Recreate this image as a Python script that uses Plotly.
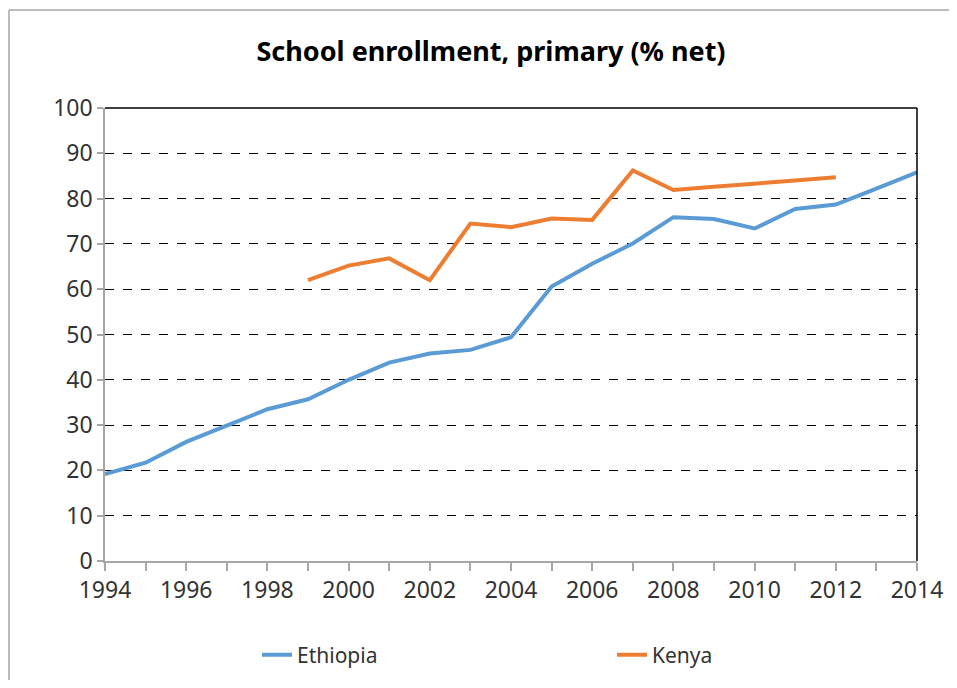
import plotly.graph_objects as go

years = list(range(1994, 2015))
ethiopia = [19.2, 21.7, 26.3, 29.9, 33.5, 35.7, 40.0, 43.8, 45.8, 46.6, 49.4,
            60.6, 65.6, 70.1, 75.9, 75.5, 73.4, 77.7, 78.7, 82.2, 85.8]
kenya_years = list(range(1999, 2013))
kenya = [62.0, 65.2, 66.8, 62.0, 74.5, 73.7, 75.6, 75.3, 86.2, 81.9, 82.6, 83.4, 84.0, 84.7]

FONT = "Noto Sans"
W, H = 941, 672
PL, PR, PT, PB = 97, 909, 100, 553  # plot area in figure pixels
PW, PH = PR - PL, PB - PT

fig = go.Figure()
fig.add_trace(go.Scatter(x=years, y=ethiopia, mode="lines", name="Ethiopia",
                         line=dict(color="#5B9BD5", width=4), legend="legend"))
fig.add_trace(go.Scatter(x=kenya_years, y=kenya, mode="lines", name="Kenya",
                         line=dict(color="#ED7D31", width=4), legend="legend2"))

leg_common = dict(orientation="h", xanchor="left", yanchor="middle",
                  xref="container", yref="container",
                  y=1 - 647 / H,
                  font=dict(family=FONT, size=21, color="#333333"),
                  bgcolor="rgba(0,0,0,0)")

fig.update_layout(
    width=W, height=H,
    margin=dict(l=PL, r=W - PR, t=PT, b=H - PB, autoexpand=False),
    paper_bgcolor="white", plot_bgcolor="white",
    title=dict(text="<b>School enrollment, primary (% net)</b>",
               x=483 / W, xref="container", xanchor="center",
               y=1 - 44 / H, yanchor="middle",
               font=dict(family=FONT, size=27, color="#000000")),
    font=dict(family=FONT, color="#333333"),
    showlegend=True,
    legend=dict(x=249 / W, **leg_common),
    legend2=dict(x=604 / W, **leg_common),
    xaxis=dict(range=[1994, 2014], tickmode="linear", tick0=1994, dtick=2,
               showgrid=False, zeroline=False, automargin=False,
               showline=True, linecolor="#A6A6A6", linewidth=1.5,
               ticks="outside", ticklen=8, tickcolor="#A6A6A6", tickwidth=1.5,
               tickfont=dict(family=FONT, size=23, color="#333333"),
               minor=dict(dtick=1, tick0=1994, ticks="outside", ticklen=8,
                          tickcolor="#A6A6A6", tickwidth=1.5, showgrid=False)),
    yaxis=dict(range=[0, 100], tickmode="linear", tick0=0, dtick=10,
               showgrid=True, gridcolor="#000000", gridwidth=1, griddash="dash",
               zeroline=False, automargin=False,
               showline=True, linecolor="#A6A6A6", linewidth=1.5,
               ticks="outside", ticklen=6, tickcolor="#A6A6A6", tickwidth=1.5,
               tickfont=dict(family=FONT, size=23, color="#333333")),
)

# plot-area border (top and right in black)
fig.add_shape(type="line", xref="paper", yref="paper", x0=0, x1=1, y0=1, y1=1,
              line=dict(color="#000000", width=1.5))
fig.add_shape(type="line", xref="paper", yref="paper", x0=1, x1=1, y0=0, y1=1,
              line=dict(color="#000000", width=1.5))
# outer chart frame: only its top and left edges fall inside the picture
fx0 = (1 - PL) / PW
fy1 = 1 + (PT - 2) / PH
fig.add_shape(type="line", xref="paper", yref="paper",
              x0=fx0, x1=1 + (W - PR + 20) / PW, y0=fy1, y1=fy1,
              line=dict(color="#A6A6A6", width=1.5), layer="below")
fig.add_shape(type="line", xref="paper", yref="paper",
              x0=fx0, x1=fx0, y0=-(H - PB + 20) / PH, y1=fy1,
              line=dict(color="#A6A6A6", width=1.5), layer="below")

fig.write_html("out.html")
